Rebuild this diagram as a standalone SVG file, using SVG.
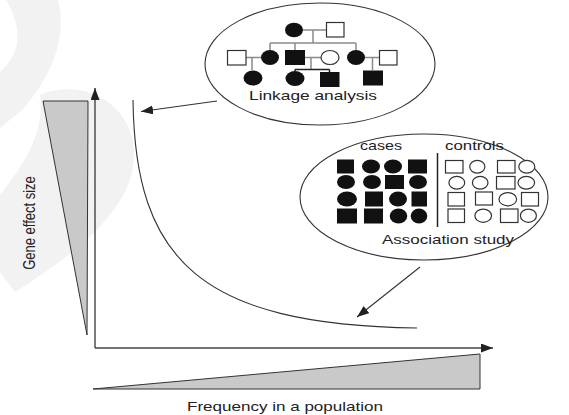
<svg xmlns="http://www.w3.org/2000/svg" width="569" height="415" viewBox="0 0 569 415">
<style>
.t{font-family:"Liberation Sans",Arial,Helvetica,sans-serif;font-size:13px;fill:#222}
.ax{stroke:#444;stroke-width:1.4;fill:none}
.ln{stroke:#333;stroke-width:1.1;fill:none}
.ell{stroke:#333;stroke-width:1.1;fill:#fff}
.g{stroke:#8a8a8a;stroke-width:1.5;fill:none}
.b{stroke:#222;stroke-width:1.5;fill:none}
.f{fill:#111}
.o{fill:#fff;stroke:#333;stroke-width:1.2}
.wedge{fill:#c9c9c9;stroke:#333;stroke-width:1}
</style>
<defs>
<marker id="ah" markerUnits="userSpaceOnUse" markerWidth="13" markerHeight="10" refX="12" refY="4.5" orient="auto">
<path d="M0,0 L12,4.5 L0,9 Z" fill="#222"/>
</marker>
</defs>
<rect width="569" height="415" fill="#fff"/>
<g id="watermark" fill="#f2f2f2">
<path d="M6,0 H58 C66,30 58,70 22,110 L0,128 V72 C20,55 24,30 6,0 Z"/>
<path d="M40,95 C80,78 130,100 134,150 C137,200 90,245 15,292 L0,272 V195 C28,160 45,128 40,95 Z"/>
</g>
<g id="effect-wedge">
<polygon class="wedge" points="43,101 88,101 87,335"/>
</g>
<g id="frequency-wedge">
<polygon class="wedge" points="93,389 480,354 480,389"/>
</g>
<g id="connectors">
<line class="ax" x1="95" y1="348" x2="95" y2="88" marker-end="url(#ah)"/>
<line class="ax" x1="95" y1="348" x2="493" y2="348" marker-end="url(#ah)"/>
<path class="ln" d="M133,100 C135,260 200,325 417,328"/>
<line class="ln" x1="217" y1="101" x2="141" y2="111.5" marker-end="url(#ah)"/>
<line class="ln" x1="420" y1="267" x2="357" y2="317" marker-end="url(#ah)"/>
</g>
<g id="y-label">
<text class="t" text-anchor="middle" transform="translate(34.5,223) scale(1.3,1) rotate(-90)">Gene effect size</text>
</g>
<g id="x-label">
<text class="t" x="187" y="411" textLength="196" lengthAdjust="spacingAndGlyphs">Frequency in a population</text>
</g>
<g id="linkage">
<ellipse class="ell" cx="320" cy="64" rx="115" ry="61"/>
<path class="g" d="M303,30 H326 M313,30 V43 M270,43 H356 M270,43 V50 M295,43 V50 M356,43 V50 M246,57.5 H261 M305,57.5 H321 M365,57.5 H379 M252,57.5 V70 M372.5,57.5 V70 M311,57.5 V69.5"/>
<path class="b" d="M295,69.5 H329.5 M295,69.5 V71 M329.5,69.5 V72"/>
<ellipse class="f" cx="294" cy="30" rx="9" ry="7.3"/>
<rect class="o" x="326.5" y="22.5" width="17.5" height="14.5"/>
<rect class="o" x="227.5" y="50.5" width="18.5" height="14.5"/>
<ellipse class="f" cx="270" cy="57.5" rx="9" ry="7.5"/>
<rect class="f" x="285" y="50" width="20" height="15"/>
<ellipse class="o" cx="330" cy="57.5" rx="9" ry="7"/>
<ellipse class="f" cx="356" cy="57.5" rx="9" ry="7.5"/>
<rect class="o" x="379.5" y="50.5" width="17.5" height="14.5"/>
<ellipse class="f" cx="253" cy="78" rx="9.5" ry="7.5"/>
<ellipse class="f" cx="295" cy="78.5" rx="9.5" ry="7.5"/>
<rect class="f" x="320" y="72" width="19.5" height="15"/>
<rect class="f" x="363" y="70.5" width="20" height="15"/>
<text class="t" x="249" y="100" textLength="128" lengthAdjust="spacingAndGlyphs">Linkage analysis</text>
</g>
<g id="association">
<ellipse class="ell" cx="424" cy="197" rx="124" ry="63"/>
<text class="t" x="360" y="150" textLength="42" lengthAdjust="spacingAndGlyphs">cases</text>
<text class="t" x="445" y="150" textLength="59" lengthAdjust="spacingAndGlyphs">controls</text>
<line x1="437.5" y1="153" x2="437.5" y2="227" stroke="#222" stroke-width="1.5"/>
<g class="f">
<rect x="337" y="159.5" width="17" height="14"/>
<ellipse cx="371" cy="166.5" rx="9" ry="7"/>
<ellipse cx="393" cy="166.5" rx="9" ry="7"/>
<rect x="408" y="159.5" width="19" height="14"/>
<ellipse cx="346" cy="182" rx="9" ry="7"/>
<ellipse cx="372" cy="182" rx="9" ry="7"/>
<rect x="385" y="175" width="19" height="14"/>
<ellipse cx="418" cy="182" rx="9" ry="7"/>
<ellipse cx="347" cy="199" rx="10" ry="7.5"/>
<rect x="365" y="191.5" width="18" height="15"/>
<ellipse cx="398" cy="199" rx="9" ry="7.5"/>
<rect x="411.5" y="191.5" width="15.5" height="15"/>
<rect x="337" y="208.5" width="20" height="15"/>
<rect x="364" y="208.5" width="19" height="15"/>
<ellipse cx="398.5" cy="216" rx="8.8" ry="7.5"/>
<ellipse cx="419" cy="216" rx="8.3" ry="7.5"/>
</g>
<g class="o">
<rect x="445.5" y="160.5" width="17.5" height="12.5"/>
<ellipse cx="477.3" cy="166.8" rx="7.6" ry="6.4"/>
<rect x="497.5" y="160.5" width="17.5" height="12.5"/>
<ellipse cx="526.8" cy="166.8" rx="8" ry="6.4"/>
<ellipse cx="456.8" cy="182.7" rx="7.9" ry="6.4"/>
<ellipse cx="480.2" cy="182.7" rx="7.8" ry="6.4"/>
<rect x="496.5" y="176.5" width="18.5" height="12.5"/>
<ellipse cx="526.3" cy="182.7" rx="8.3" ry="6.4"/>
<rect x="448" y="192.5" width="16.5" height="13.5"/>
<rect x="475.5" y="192" width="17" height="13"/>
<ellipse cx="507.8" cy="199.2" rx="8.8" ry="6.6"/>
<rect x="521.5" y="192.5" width="17" height="13.5"/>
<rect x="448" y="209" width="16.5" height="13.5"/>
<ellipse cx="483.2" cy="215.7" rx="8.3" ry="6.6"/>
<rect x="500.5" y="209" width="17.5" height="13.5"/>
<ellipse cx="528.4" cy="215.7" rx="8" ry="6.6"/>
</g>
<text class="t" x="382" y="244" textLength="132" lengthAdjust="spacingAndGlyphs">Association study</text>
</g>
</svg>
